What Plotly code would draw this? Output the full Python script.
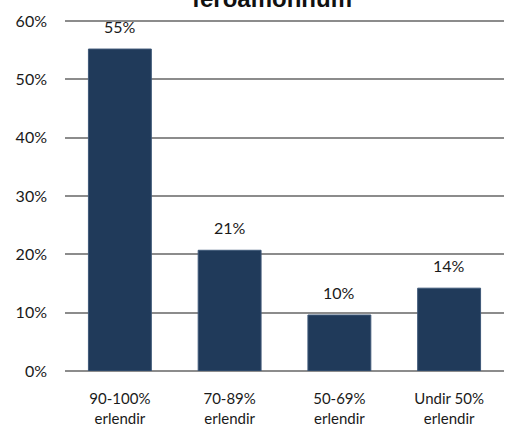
import plotly.graph_objects as go

categories = ["90-100%<br>erlendir", "70-89%<br>erlendir", "50-69%<br>erlendir", "Undir 50%<br>erlendir"]
values = [0.552, 0.207, 0.096, 0.142]
labels = ["55%", "21%", "10%", "14%"]
title_text = "ferðamönnum"
y_ticks = [0, 0.1, 0.2, 0.3, 0.4, 0.5, 0.6]

FONT = "Lato"
TXT = "#1a1a1a"

fig = go.Figure()
fig.add_trace(go.Bar(
    x=categories, y=values,
    marker=dict(color="#203a5a", line=dict(color="#3e5878", width=1)),
    hoverinfo="skip",
))

for c, v, t in zip(categories, values, labels):
    fig.add_annotation(x=c, y=v, text=t, showarrow=False, yanchor="bottom",
                       yshift=11, font=dict(family=FONT, size=16, color=TXT))

# title (its upper part is cut off by the top edge, as in the reference)
fig.add_annotation(x=0.4716, y=1.06, xref="paper", yref="paper",
                   text="<b>" + title_text + "</b>", showarrow=False,
                   xanchor="center", yanchor="middle",
                   font=dict(family="Liberation Sans", size=24, color="#111"))

fig.update_layout(
    width=509, height=426,
    margin=dict(l=64.5, r=4.5, t=20.4, b=55, autoexpand=False),
    paper_bgcolor="white", plot_bgcolor="white",
    bargap=0.427,
    showlegend=False,
    font=dict(family=FONT, size=16, color=TXT),
)
fig.update_yaxes(range=[0, 0.6018], tickvals=y_ticks, tickformat=".0%",
                 showgrid=True, gridcolor="#8c8c8c", gridwidth=1.5,
                 zeroline=True, zerolinecolor="#8c8c8c", zerolinewidth=1.5,
                 showline=False, ticklabelstandoff=17, automargin=False,
                 tickfont=dict(family=FONT, size=16, color=TXT))
fig.update_xaxes(showgrid=False, showline=False, ticks="", ticklabelstandoff=17,
                 automargin=False,
                 tickfont=dict(family=FONT, size=15, color=TXT))

fig.write_html("out.html", config={"displayModeBar": False},
               post_script="document.body.style.margin='0';")
